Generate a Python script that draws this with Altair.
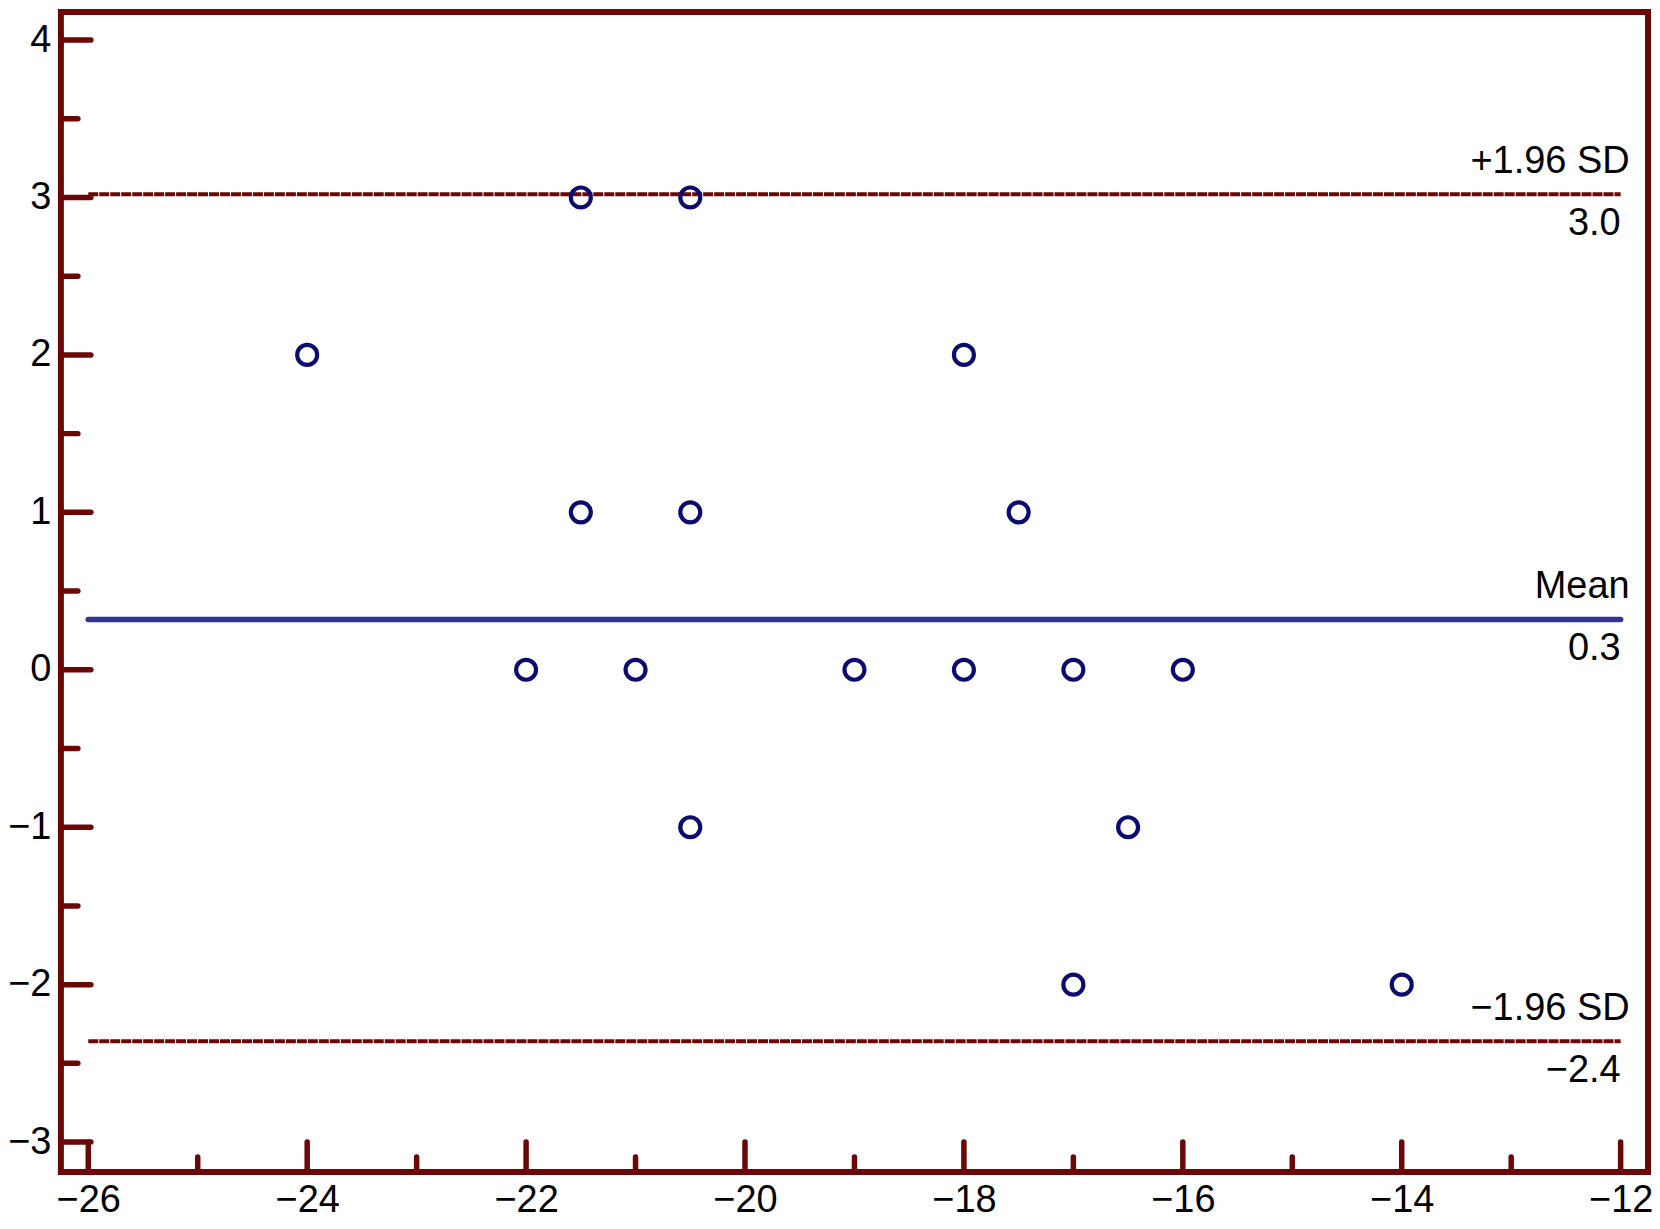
import altair as alt
import pandas as pd

# Data
pt_x = [-24, -21.5, -20.5, -18, -21.5, -20.5, -17.5, -22, -21, -19, -18, -17, -16, -20.5, -16.5, -17, -14]
pt_y = [2, 3, 3, 2, 1, 1, 1, 0, 0, 0, 0, 0, 0, -1, -1, -2, -2]

mean_val = 0.32
upper_val = 3.02
lower_val = -2.36
line_x_start = -26
line_x_end = -12

top_labels = ["+1.96 SD", "Mean", "\u22121.96 SD"]
bottom_labels = ["3.0", "0.3", "\u22122.4"]
ref_vals = [upper_val, mean_val, lower_val]

x_label_vals = [-26, -24, -22, -20, -18, -16, -14, -12]
x_minor_vals = [-25, -23, -21, -19, -17, -15, -13]
y_label_vals = [-3, -2, -1, 0, 1, 2, 3, 4]
y_minor_vals = [-2.5, -1.5, -0.5, 0.5, 1.5, 2.5, 3.5]

W, H = 1590, 1162
FRAME = "#6b0707"
NAVY = "#0b0b70"
MEANC = "#2e3490"
FONT = "Liberation Sans"
FS = 38

xscale = alt.Scale(domain=[-26.25, -11.75], nice=False, zero=False)
yscale = alt.Scale(domain=[-3.19, 4.1775], nice=False, zero=False)
xaxis = alt.Axis(values=x_label_vals, ticks=False, domain=False, grid=False, title=None,
                 labelFontSize=FS, labelFont=FONT, labelColor="black", labelPadding=10,
                 labelFlush=False)
yaxis = alt.Axis(values=y_label_vals, ticks=False, domain=False, grid=False, title=None,
                 labelFontSize=FS, labelFont=FONT, labelColor="black", labelPadding=10)

pts = pd.DataFrame({"x": pt_x, "y": pt_y})
sd = pd.DataFrame({"x": [line_x_start] * 2, "x2": [line_x_end] * 2, "y": [upper_val, lower_val]})
mean = pd.DataFrame({"x": [line_x_start], "x2": [line_x_end], "y": [mean_val]})
labs = pd.DataFrame({"x": [line_x_end] * 3, "y": ref_vals, "top": top_labels, "bot": bottom_labels})

X = lambda f="x": alt.X(f, type="quantitative", scale=xscale, axis=xaxis)
Y = lambda f="y": alt.Y(f, type="quantitative", scale=yscale, axis=yaxis)

sd_lines = alt.Chart(sd).mark_rule(color=FRAME, strokeWidth=4, strokeDash=[10, 1]).encode(
    x=X(), x2="x2", y=Y())
mean_line = alt.Chart(mean).mark_rule(color=MEANC, strokeWidth=5.5, strokeCap="round").encode(
    x=X(), x2="x2", y=Y())
points = alt.Chart(pts).mark_point(shape="circle", filled=False, color=NAVY, size=400,
                                   strokeWidth=4.2, opacity=1).encode(x=X(), y=Y())
top_text = alt.Chart(labs).mark_text(align="right", baseline="middle", dy=-32, dx=9,
                                     fontSize=FS, font=FONT, color="black").encode(
    x=X(), y=Y(), text="top")
bot_text = alt.Chart(labs).mark_text(align="right", baseline="middle", dy=30, dx=0,
                                     fontSize=FS, font=FONT, color="black").encode(
    x=X(), y=Y(), text="bot")

ymaj = alt.Chart(pd.DataFrame({"y": y_label_vals})).mark_rule(
    color=FRAME, strokeWidth=5.5, strokeCap="round").encode(
    y=Y(), x=alt.value(0), x2=alt.value(30))
ymin = alt.Chart(pd.DataFrame({"y": y_minor_vals})).mark_rule(
    color=FRAME, strokeWidth=5.5, strokeCap="round").encode(
    y=Y(), x=alt.value(0), x2=alt.value(17))
xmaj = alt.Chart(pd.DataFrame({"x": x_label_vals})).mark_rule(
    color=FRAME, strokeWidth=5.5, strokeCap="round").encode(
    x=X(), y=alt.value(H), y2=alt.value(H - 30))
xmin = alt.Chart(pd.DataFrame({"x": x_minor_vals})).mark_rule(
    color=FRAME, strokeWidth=5.5, strokeCap="round").encode(
    x=X(), y=alt.value(H), y2=alt.value(H - 15))

chart = alt.layer(
    sd_lines, mean_line, ymaj, ymin, xmaj, xmin, points, top_text, bot_text
).properties(
    width=W, height=H,
    autosize=alt.AutoSizeParams(type="none"),
    padding={"left": 53, "top": 3, "right": 4, "bottom": 50},
).configure(
    background="white",
    view=alt.ViewConfig(stroke=FRAME, strokeWidth=6),
)

chart.save("out.html", embed_options={"renderer": "svg", "actions": False})
